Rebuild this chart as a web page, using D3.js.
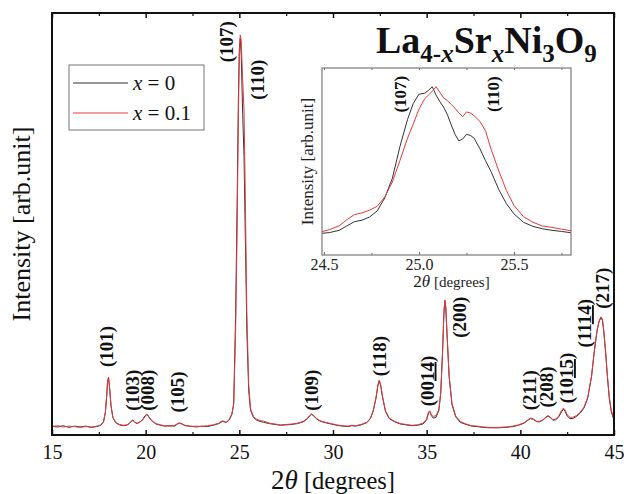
<!DOCTYPE html>
<html>
<head>
<meta charset="utf-8">
<script src="https://cdn.jsdelivr.net/npm/d3@7"></script>
<style>
  html, body { margin: 0; padding: 0; background: #fff; }
  svg { display: block; }
  text { font-family: "Liberation Serif", "Times New Roman", serif; }
</style>
</head>
<body>
<svg id="chart" width="624" height="494"></svg>
<script>
// ---------- data ----------
const twoTheta = [15.0,15.3,15.6,15.9,16.2,16.5,16.8,17.1,17.4,17.6,17.75,17.85,17.92,17.97,18.02,18.08,18.15,18.25,18.4,18.6,18.8,19.0,19.15,19.25,19.32,19.42,19.55,19.7,19.85,19.95,20.05,20.12,20.2,20.35,20.55,20.8,21.0,21.3,21.55,21.7,21.8,21.9,22.1,22.4,22.7,23.0,23.3,23.6,23.9,24.1,24.3,24.45,24.6,24.7,24.8,24.88,24.95,25.0,25.05,25.1,25.18,25.25,25.32,25.4,25.5,25.6,25.75,25.9,26.1,26.3,26.6,26.9,27.2,27.5,27.8,28.1,28.4,28.6,28.75,28.85,28.95,29.1,29.3,29.6,29.9,30.2,30.5,30.8,31.0,31.2,31.5,31.8,32.0,32.15,32.3,32.4,32.47,32.55,32.65,32.8,33.0,33.3,33.6,33.9,34.2,34.5,34.8,35.0,35.1,35.17,35.25,35.35,35.5,35.65,35.75,35.85,35.92,35.97,36.02,36.1,36.2,36.35,36.55,36.8,37.1,37.4,37.7,38.0,38.4,38.8,39.2,39.6,39.9,40.2,40.4,40.55,40.7,40.85,41.0,41.2,41.35,41.48,41.6,41.75,41.9,42.05,42.2,42.3,42.38,42.5,42.65,42.8,43.0,43.2,43.4,43.6,43.8,43.95,44.1,44.2,44.3,44.38,44.45,44.55,44.65,44.75,44.85,45.0];

const intensityX0 = [21,19,22,18,21,19,21,18,20,23,31,53,92,128,135,108,69,41,29,24,22,23,28,33,35,30,27,31,37,45,49,47,41,33,26,23,21,22,21,26,28,27,22,21,19,21,20,23,27,32,30,35,48,75,280,540,800,915,940,900,760,660,470,250,105,58,42,36,32,30,27,25,23,24,25,27,31,37,45,49,46,39,33,29,26,23,21,20,22,21,24,29,39,57,88,118,128,116,88,56,39,31,26,24,22,23,26,36,52,55,46,40,42,58,98,196,286,318,302,226,138,72,43,30,25,21,20,18,17,17,18,20,23,28,35,39,37,32,31,35,41,45,41,35,36,43,55,61,57,45,39,39,44,52,64,88,138,198,248,268,278,272,247,196,136,86,56,35];

const intensityX01 = [20,22,19,21,20,18,20,19,21,24,32,55,95,130,137,110,70,42,30,25,23,24,28,34,36,30,28,31,36,43,47,46,40,32,27,24,22,21,23,27,29,27,23,20,21,20,22,24,28,34,30,36,50,72,240,480,760,900,948,935,840,770,560,290,120,62,44,38,34,33,28,26,24,25,26,28,32,38,46,50,47,40,34,30,27,24,22,21,23,22,25,30,40,58,90,120,130,118,90,58,40,32,27,25,23,24,28,38,55,57,48,44,46,60,100,200,290,320,305,230,140,75,45,32,26,22,21,19,18,18,19,21,24,29,36,40,38,33,32,36,42,46,42,36,38,45,58,64,60,48,42,42,46,54,66,90,140,200,250,270,280,275,250,200,140,90,60,38];

const insetTheta = [24.49,24.53,24.58,24.62,24.66,24.70,24.74,24.78,24.82,24.86,24.90,24.94,24.97,25.00,25.03,25.05,25.07,25.09,25.11,25.13,25.15,25.17,25.19,25.21,25.23,25.25,25.27,25.29,25.32,25.35,25.38,25.42,25.46,25.50,25.55,25.60,25.65,25.70,25.75,25.80];
const insetX0 = [11.6,12.0,13.2,15.5,17.8,18.6,20.3,23.5,30.5,41.0,58.0,72.5,81.0,86.0,86.5,88.0,90.0,85.5,82.0,79.0,75.0,69.5,64.5,61.0,62.0,64.5,64.0,62.5,57.0,50.5,44.5,35.0,27.5,22.0,17.5,15.3,14.0,13.2,12.6,11.9];
const insetX01 = [12.5,13.6,15.6,18.8,21.6,22.5,24.0,26.0,31.0,39.0,50.5,62.5,70.0,78.0,83.5,85.5,87.5,90.0,87.0,84.0,82.5,80.5,78.5,76.0,74.0,76.5,76.0,74.5,71.5,66.5,56.5,45.0,34.5,26.5,20.5,17.5,15.5,14.8,13.8,13.0];

const xTicks = [15,20,25,30,35,40,45];
const xMinorTicks = [17.5,22.5,27.5,32.5,37.5,42.5];
const insetTicks = [24.5,25.0,25.5];
const insetMinorTicks = [24.75,25.25,25.75];

// peak labels: [text parts (underlined?), label position 2theta, label center intensity]
const peakLabels = [
  {parts:[["(101)",false]], t:17.95, v:210},
  {parts:[["(103)",false]], t:19.3, v:106},
  {parts:[["(008)",false]], t:20.15, v:106},
  {parts:[["(105)",false]], t:21.7, v:102},
  {parts:[["(107)",false]], t:24.34, v:932},
  {parts:[["(110)",false]], t:26.0, v:842},
  {parts:[["(109)",false]], t:28.9, v:106},
  {parts:[["(118)",false]], t:32.5, v:187},
  {parts:[["(00",false],["14",true],[")",false]], t:35.05, v:128},
  {parts:[["(200)",false]], t:36.8, v:279},
  {parts:[["(211)",false]], t:40.52, v:106},
  {parts:[["(208)",false]], t:41.42, v:114},
  {parts:[["(10",false],["15",true],[")",false]], t:42.49, v:135},
  {parts:[["(11",false],["14",true],[")",false]], t:43.45, v:265},
  {parts:[["(217)",false]], t:44.41, v:348}
];
const insetLabels = [
  {text:"(107)", t:24.9, v:86},
  {text:"(110)", t:25.39, v:86}
];

const seriesNames = ["x = 0", "x = 0.1"];
const seriesColors = ["#333333", "#e8383d"];

// ---------- layout ----------
const svg = d3.select("#chart");
const M = {left:52, right:614, top:13, bottom:435};
const x = d3.scaleLinear().domain([15,45]).range([M.left, M.right]);
const y = d3.scaleLinear().domain([0,1000]).range([M.bottom, M.top]);

const I = {left:322, right:571, top:68, bottom:255};
const xi = d3.scaleLinear().domain([24.49,25.8]).range([I.left, I.right]);
const yi = d3.scaleLinear().domain([0,100]).range([I.bottom, I.top]);

// ---------- main lines ----------
const mainLine = (vals) => d3.line().x((d,i)=>x(twoTheta[i])).y(d=>y(d))(vals);
svg.append("path").attr("d", mainLine(intensityX0)).attr("fill","none")
  .attr("stroke", seriesColors[0]).attr("stroke-width",1);
svg.append("path").attr("d", mainLine(intensityX01)).attr("fill","none")
  .attr("stroke", seriesColors[1]).attr("stroke-width",1);

// ---------- main axes ----------
const axB = svg.append("g").attr("transform",`translate(0,${M.bottom})`)
  .call(d3.axisBottom(x).tickValues(xTicks).tickSize(-5).tickPadding(10).tickFormat(d3.format("d")));
axB.select(".domain").remove();
axB.selectAll("text").attr("font-size",20).attr("fill","#111");
axB.selectAll("line").attr("stroke","#111").attr("stroke-width",1.5);
const axBm = svg.append("g").attr("transform",`translate(0,${M.bottom})`)
  .call(d3.axisBottom(x).tickValues(xMinorTicks).tickSize(-3).tickFormat(""));
axBm.select(".domain").remove();
axBm.selectAll("line").attr("stroke","#111").attr("stroke-width",1.2);

const axT = svg.append("g").attr("transform",`translate(0,${M.top})`)
  .call(d3.axisTop(x).tickValues(xTicks).tickSize(-5).tickFormat(""));
axT.select(".domain").remove();
axT.selectAll("line").attr("stroke","#111").attr("stroke-width",1.5);
const axTm = svg.append("g").attr("transform",`translate(0,${M.top})`)
  .call(d3.axisTop(x).tickValues(xMinorTicks).tickSize(-3).tickFormat(""));
axTm.select(".domain").remove();
axTm.selectAll("line").attr("stroke","#111").attr("stroke-width",1.2);

svg.append("rect").attr("x",M.left).attr("y",M.top)
  .attr("width",M.right-M.left).attr("height",M.bottom-M.top)
  .attr("fill","none").attr("stroke","#111").attr("stroke-width",2);

// axis titles
const xt = svg.append("text").attr("x",(M.left+M.right)/2).attr("y",489)
  .attr("text-anchor","middle").attr("font-size",27).attr("fill","#111");
xt.append("tspan").text("2");
xt.append("tspan").attr("font-style","italic").text("θ");
xt.append("tspan").attr("font-size",24.5).text(" [degrees]");

svg.append("text").attr("transform",`translate(30,${(M.top+M.bottom)/2}) rotate(-90)`)
  .attr("text-anchor","middle").attr("font-size",26).attr("fill","#111")
  .text("Intensity [arb.unit]");

// ---------- peak labels ----------
peakLabels.forEach(p => {
  const t = svg.append("text")
    .attr("transform",`translate(${x(p.t)+6},${y(p.v)}) rotate(-90)`)
    .attr("text-anchor","middle").attr("font-size",19).attr("font-weight","bold").attr("fill","#111");
  p.parts.forEach(([s,u]) => {
    const ts = t.append("tspan").text(s);
    if (u) ts.attr("text-decoration","underline").style("text-decoration","underline");
  });
});

// ---------- title ----------
const title = svg.append("text").attr("x",376).attr("y",53)
  .attr("font-size",38).attr("font-weight","bold").attr("fill","#111");
title.append("tspan").text("La");
title.append("tspan").attr("font-size",25).attr("dy",9).text("4-");
title.append("tspan").attr("font-size",25).attr("font-style","italic").text("x");
title.append("tspan").attr("dy",-9).text("Sr");
title.append("tspan").attr("font-size",25).attr("font-style","italic").attr("dy",9).text("x");
title.append("tspan").attr("dy",-9).text("Ni");
title.append("tspan").attr("font-size",25).attr("dy",9).text("3");
title.append("tspan").attr("dy",-9).text("O");
title.append("tspan").attr("font-size",25).attr("dy",9).text("9");

// ---------- legend ----------
const lg = svg.append("g");
lg.append("rect").attr("x",69).attr("y",65).attr("width",135).attr("height",65)
  .attr("fill","#fff").attr("stroke","#777").attr("stroke-width",1);
seriesNames.forEach((name,i) => {
  const yy = 83 + i*30;
  lg.append("line").attr("x1",73).attr("x2",128).attr("y1",yy).attr("y2",yy)
    .attr("stroke",seriesColors[i]).attr("stroke-width",1.2);
  const t = lg.append("text").attr("x",133).attr("y",yy+7).attr("font-size",21).attr("fill","#111");
  t.append("tspan").attr("font-style","italic").text(name.slice(0,1));
  t.append("tspan").text(name.slice(1));
});

// ---------- inset ----------
const inset = svg.append("g");
const insetLine = (vals) => d3.line().x((d,i)=>xi(insetTheta[i])).y(d=>yi(d))(vals);
inset.append("path").attr("d", insetLine(insetX0)).attr("fill","none")
  .attr("stroke", seriesColors[0]).attr("stroke-width",1);
inset.append("path").attr("d", insetLine(insetX01)).attr("fill","none")
  .attr("stroke", seriesColors[1]).attr("stroke-width",1);

const iaB = inset.append("g").attr("transform",`translate(0,${I.bottom})`)
  .call(d3.axisBottom(xi).tickValues(insetTicks).tickSize(-3).tickPadding(4).tickFormat(d3.format(".1f")));
iaB.select(".domain").remove();
iaB.selectAll("text").attr("font-size",16).attr("fill","#222");
iaB.selectAll("line").attr("stroke","#666");
const iaBm = inset.append("g").attr("transform",`translate(0,${I.bottom})`)
  .call(d3.axisBottom(xi).tickValues(insetMinorTicks).tickSize(-2).tickFormat(""));
iaBm.select(".domain").remove();
iaBm.selectAll("line").attr("stroke","#666");
const iaT = inset.append("g").attr("transform",`translate(0,${I.top})`)
  .call(d3.axisTop(xi).tickValues(insetTicks.concat(insetMinorTicks)).tickSize(-2).tickFormat(""));
iaT.select(".domain").remove();
iaT.selectAll("line").attr("stroke","#666");

inset.append("rect").attr("x",I.left).attr("y",I.top)
  .attr("width",I.right-I.left).attr("height",I.bottom-I.top)
  .attr("fill","none").attr("stroke","#7a7a7a").attr("stroke-width",1.2);

const ixt = inset.append("text").attr("x",(I.left+I.right)/2+5).attr("y",287)
  .attr("text-anchor","middle").attr("font-size",17).attr("fill","#222");
ixt.append("tspan").text("2");
ixt.append("tspan").attr("font-style","italic").text("θ");
ixt.append("tspan").attr("font-size",15).text(" [degrees]");

inset.append("text").attr("transform",`translate(313,${(I.top+I.bottom)/2}) rotate(-90)`)
  .attr("text-anchor","middle").attr("font-size",17).attr("fill","#222")
  .text("Intensity [arb.unit]");

insetLabels.forEach(p => {
  inset.append("text")
    .attr("transform",`translate(${xi(p.t)+6},${yi(p.v)}) rotate(-90)`)
    .attr("text-anchor","middle").attr("font-size",17).attr("font-weight","bold").attr("fill","#111")
    .text(p.text);
});
</script>
</body>
</html>
